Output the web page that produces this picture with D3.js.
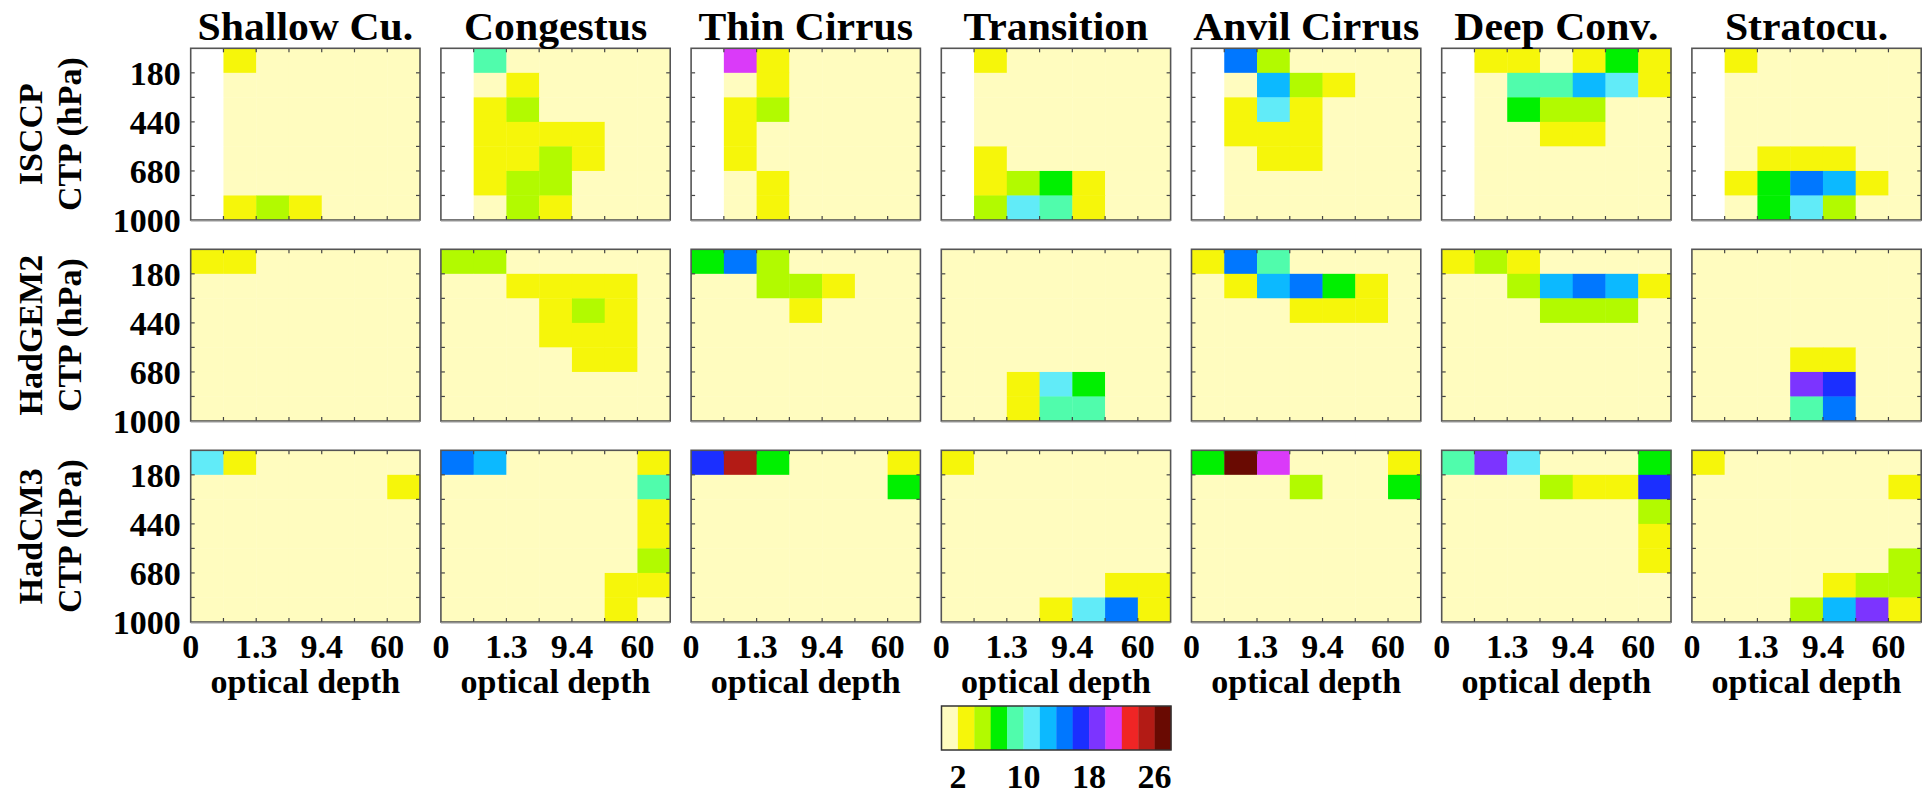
<!DOCTYPE html>
<html>
<head>
<meta charset="utf-8">
<script src="https://cdn.jsdelivr.net/npm/d3@7"></script>
<style>
  html, body { margin: 0; padding: 0; background: #fff; }
  svg { display: block; }
  text { font-family: "Liberation Serif", "Times New Roman", serif; font-weight: bold; fill: #000; }
</style>
</head>
<body>
<svg id="chart" width="1924" height="796"></svg>
<script>
// ---------------- data ----------------
const regimes = ["Shallow Cu.", "Congestus", "Thin Cirrus", "Transition", "Anvil Cirrus", "Deep Conv.", "Stratocu."];
const datasets = ["ISCCP", "HadGEM2", "HadCM3"];
const tauEdges = ["0", "0.3", "1.3", "3.6", "9.4", "23", "60", "380"];
const tauTickIdx = [0, 2, 4, 6];
const ctpEdges = ["50", "180", "310", "440", "560", "680", "800", "1000"];
const ctpTickIdx = [1, 3, 5, 7];
const colorBreaks = [2, 4, 6, 8, 10, 12, 14, 16, 18, 20, 22, 24, 26];
const colorTicks = [2, 10, 18, 26];
const palette = ["#FFFCBF", "#F6F60A", "#B2FA00", "#00F000", "#50FCAC", "#61EBF8", "#0CB9FF",
                 "#0077FF", "#1B2FFF", "#7C34FF", "#DA3AF9", "#F02525", "#B31B15", "#690A02"];
const N = null;

// frequency of occurrence (%) per CTP row (top = 50-180 hPa) and tau column
const isccp = [
  [[N,3,1,1,1,1,1],[N,1,1,1,1,1,1],[N,1,1,1,1,1,1],[N,1,1,1,1,1,1],[N,1,1,1,1,1,1],[N,1,1,1,1,1,1],[N,3,5,3,1,1,1]],
  [[N,9,1,1,1,1,1],[N,1,3,1,1,1,1],[N,3,5,1,1,1,1],[N,3,3,3,3,1,1],[N,3,3,5,3,1,1],[N,3,5,5,1,1,1],[N,1,5,3,1,1,1]],
  [[N,21,3,1,1,1,1],[N,1,3,1,1,1,1],[N,3,5,1,1,1,1],[N,3,1,1,1,1,1],[N,3,1,1,1,1,1],[N,1,3,1,1,1,1],[N,1,3,1,1,1,1]],
  [[N,3,1,1,1,1,1],[N,1,1,1,1,1,1],[N,1,1,1,1,1,1],[N,1,1,1,1,1,1],[N,3,1,1,1,1,1],[N,3,5,7,3,1,1],[N,5,11,9,3,1,1]],
  [[N,15,5,1,1,1,1],[N,1,13,5,3,1,1],[N,3,11,3,1,1,1],[N,3,3,3,1,1,1],[N,1,3,3,1,1,1],[N,1,1,1,1,1,1],[N,1,1,1,1,1,1]],
  [[N,3,3,1,3,7,3],[N,1,9,9,13,11,3],[N,1,7,5,5,1,1],[N,1,1,3,3,1,1],[N,1,1,1,1,1,1],[N,1,1,1,1,1,1],[N,1,1,1,1,1,1]],
  [[N,3,1,1,1,1,1],[N,1,1,1,1,1,1],[N,1,1,1,1,1,1],[N,1,1,1,1,1,1],[N,1,3,3,3,1,1],[N,3,7,15,13,3,1],[N,1,7,11,5,1,1]]
];
const hadgem2 = [
  [[3,3,1,1,1,1,1],[1,1,1,1,1,1,1],[1,1,1,1,1,1,1],[1,1,1,1,1,1,1],[1,1,1,1,1,1,1],[1,1,1,1,1,1,1],[1,1,1,1,1,1,1]],
  [[5,5,1,1,1,1,1],[1,1,3,3,3,3,1],[1,1,1,3,5,3,1],[1,1,1,3,3,3,1],[1,1,1,1,3,3,1],[1,1,1,1,1,1,1],[1,1,1,1,1,1,1]],
  [[7,15,5,1,1,1,1],[1,1,5,5,3,1,1],[1,1,1,3,1,1,1],[1,1,1,1,1,1,1],[1,1,1,1,1,1,1],[1,1,1,1,1,1,1],[1,1,1,1,1,1,1]],
  [[1,1,1,1,1,1,1],[1,1,1,1,1,1,1],[1,1,1,1,1,1,1],[1,1,1,1,1,1,1],[1,1,1,1,1,1,1],[1,1,3,11,7,1,1],[1,1,3,9,9,1,1]],
  [[3,15,9,1,1,1,1],[1,3,13,15,7,3,1],[1,1,1,3,3,3,1],[1,1,1,1,1,1,1],[1,1,1,1,1,1,1],[1,1,1,1,1,1,1],[1,1,1,1,1,1,1]],
  [[3,5,3,1,1,1,1],[1,1,5,13,15,13,3],[1,1,1,5,5,5,1],[1,1,1,1,1,1,1],[1,1,1,1,1,1,1],[1,1,1,1,1,1,1],[1,1,1,1,1,1,1]],
  [[1,1,1,1,1,1,1],[1,1,1,1,1,1,1],[1,1,1,1,1,1,1],[1,1,1,1,1,1,1],[1,1,1,3,3,1,1],[1,1,1,19,17,1,1],[1,1,1,9,15,1,1]]
];
const hadcm3 = [
  [[11,3,1,1,1,1,1],[1,1,1,1,1,1,3],[1,1,1,1,1,1,1],[1,1,1,1,1,1,1],[1,1,1,1,1,1,1],[1,1,1,1,1,1,1],[1,1,1,1,1,1,1]],
  [[15,13,1,1,1,1,3],[1,1,1,1,1,1,9],[1,1,1,1,1,1,3],[1,1,1,1,1,1,3],[1,1,1,1,1,1,5],[1,1,1,1,1,3,3],[1,1,1,1,1,3,1]],
  [[17,25,7,1,1,1,3],[1,1,1,1,1,1,7],[1,1,1,1,1,1,1],[1,1,1,1,1,1,1],[1,1,1,1,1,1,1],[1,1,1,1,1,1,1],[1,1,1,1,1,1,1]],
  [[3,1,1,1,1,1,1],[1,1,1,1,1,1,1],[1,1,1,1,1,1,1],[1,1,1,1,1,1,1],[1,1,1,1,1,1,1],[1,1,1,1,1,3,3],[1,1,1,3,11,15,3]],
  [[7,27,21,1,1,1,3],[1,1,1,5,1,1,7],[1,1,1,1,1,1,1],[1,1,1,1,1,1,1],[1,1,1,1,1,1,1],[1,1,1,1,1,1,1],[1,1,1,1,1,1,1]],
  [[9,19,11,1,1,1,7],[1,1,1,5,3,3,17],[1,1,1,1,1,1,5],[1,1,1,1,1,1,3],[1,1,1,1,1,1,3],[1,1,1,1,1,1,1],[1,1,1,1,1,1,1]],
  [[3,1,1,1,1,1,1],[1,1,1,1,1,1,3],[1,1,1,1,1,1,1],[1,1,1,1,1,1,1],[1,1,1,1,1,1,5],[1,1,1,1,3,5,5],[1,1,1,5,13,19,3]]
];
const allData = [isccp, hadgem2, hadcm3];

// ---------------- layout ----------------
const svg = d3.select("#chart");
const panelW = 229.3, panelH = 171.7;
const colX = d3.scaleLinear().domain([0, 1]).range([190.7, 440.9]);   // panel left edges
const rowY = d3.scaleLinear().domain([0, 1]).range([48.3, 249.3]);    // panel top edges
const x = d3.scaleLinear().domain([0, 7]).range([0, panelW]);
const y = d3.scaleLinear().domain([0, 7]).range([0, panelH]);
const color = d3.scaleThreshold().domain(colorBreaks).range(palette);
const fs = 34;

datasets.forEach((ds, r) => {
  regimes.forEach((rg, c) => {
    const g = svg.append("g").attr("transform", `translate(${colX(c)},${rowY(r)})`);
    const grid = allData[r][c];
    const cells = [];
    grid.forEach((row, i) => row.forEach((v, j) => cells.push({ i, j, v })));
    g.selectAll("rect.cell").data(cells).join("rect")
      .attr("class", "cell")
      .attr("x", d => x(d.j)).attr("y", d => y(d.i))
      .attr("width", x(1) - x(0) + 0.4).attr("height", y(1) - y(0) + 0.4)
      .attr("fill", d => d.v === null ? "#FFFFFF" : color(d.v));

    // inner ticks on all four sides
    const idx = d3.range(1, 7);
    const tk = 4;
    const tg = g.append("g").attr("stroke", "#444").attr("stroke-width", 1.2);
    idx.forEach(k => {
      tg.append("line").attr("x1", x(k)).attr("x2", x(k)).attr("y1", 0).attr("y2", tk);
      tg.append("line").attr("x1", x(k)).attr("x2", x(k)).attr("y1", panelH).attr("y2", panelH - tk);
      tg.append("line").attr("y1", y(k)).attr("y2", y(k)).attr("x1", 0).attr("x2", tk);
      tg.append("line").attr("y1", y(k)).attr("y2", y(k)).attr("x1", panelW).attr("x2", panelW - tk);
    });
    g.append("rect").attr("x", 0).attr("y", 0).attr("width", panelW).attr("height", panelH)
      .attr("fill", "none").attr("stroke", "#555").attr("stroke-width", 1.6);
    g.append("line").attr("x1", 0).attr("x2", panelW).attr("y1", panelH + 0.8).attr("y2", panelH + 0.8)
      .attr("stroke", "#999").attr("stroke-width", 1.2);

    if (r === 0) {
      g.append("text")
        .attr("transform", `translate(${panelW / 2},${39.5 - 48.3}) scale(1.07,1)`)
        .attr("text-anchor", "middle").attr("font-size", 39).text(rg);
    }
    if (c === 0) {
      g.selectAll("text.ytick").data(ctpTickIdx).join("text")
        .attr("class", "ytick")
        .attr("x", -10).attr("y", k => y(k)).attr("dy", "0.35em")
        .attr("text-anchor", "end").attr("font-size", fs)
        .text(k => ctpEdges[k]);
    }
    if (r === datasets.length - 1) {
      g.selectAll("text.xtick").data(tauTickIdx).join("text")
        .attr("class", "xtick")
        .attr("x", k => x(k)).attr("y", 658 - 450.3)
        .attr("text-anchor", "middle").attr("font-size", fs)
        .text(k => tauEdges[k]);
      g.append("text").attr("x", panelW / 2).attr("y", 693 - 450.3)
        .attr("text-anchor", "middle").attr("font-size", fs).text("optical depth");
    }
  });
  // row labels
  const cy = rowY(r) + panelH / 2;
  svg.append("text").attr("transform", `translate(42,${cy}) rotate(-90)`)
    .attr("text-anchor", "middle").attr("font-size", fs).text(ds);
  svg.append("text").attr("transform", `translate(81,${cy}) rotate(-90)`)
    .attr("text-anchor", "middle").attr("font-size", fs).text("CTP (hPa)");
});

// ---------------- colour bar ----------------
const cb = d3.scaleLinear().domain([0, 28]).range([941.5, 1171]);
const cbTop = 706, cbH = 44;
const segs = palette.map((p, i) => ({ lo: i === 0 ? 0 : colorBreaks[i - 1], hi: i < colorBreaks.length ? colorBreaks[i] : 28, p }));
svg.selectAll("rect.cb").data(segs).join("rect")
  .attr("class", "cb")
  .attr("x", d => cb(d.lo)).attr("y", cbTop)
  .attr("width", d => cb(d.hi) - cb(d.lo) + 0.3).attr("height", cbH)
  .attr("fill", d => d.p);
svg.append("rect").attr("x", cb(0)).attr("y", cbTop).attr("width", cb(28) - cb(0)).attr("height", cbH)
  .attr("fill", "none").attr("stroke", "#333").attr("stroke-width", 1.5);
svg.selectAll("text.cbt").data(colorTicks).join("text")
  .attr("class", "cbt")
  .attr("x", d => cb(d)).attr("y", 788)
  .attr("text-anchor", "middle").attr("font-size", fs)
  .text(d => d);
</script>
</body>
</html>
